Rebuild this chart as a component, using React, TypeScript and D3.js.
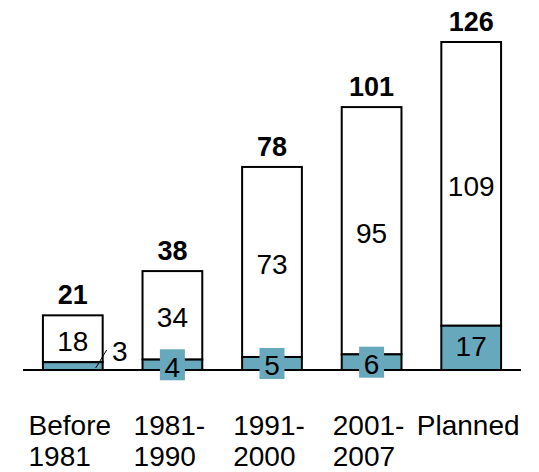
import React, { useEffect, useRef } from "react";
import * as d3 from "d3";

// Stacked counts per period: lower (teal) segment and upper (white) segment
const categories = ["Before 1981", "1981- 1990", "1991- 2000", "2001- 2007", "Planned"];
const categoryLines = [["Before", "1981"], ["1981-", "1990"], ["1991-", "2000"], ["2001-", "2007"], ["Planned"]];
const lowerValues = [3, 4, 5, 6, 17];
const upperValues = [18, 34, 73, 95, 109];
const totals = [21, 38, 78, 101, 126];

const WIDTH = 539;
const HEIGHT = 472;
const FONT = "'Liberation Sans', Arial, Helvetica, sans-serif";
const TEAL = "#68a8bd";

export default function App() {
  const ref = useRef<SVGSVGElement | null>(null);

  useEffect(() => {
    const svg = d3.select(ref.current);
    svg.selectAll("*").remove();

    const x = d3
      .scaleBand<string>()
      .domain(categories)
      .range([23, 521])
      .paddingInner(0.4)
      .paddingOuter(0.2);
    const y = d3.scaleLinear().domain([0, 126]).range([370, 42]);
    const bw = x.bandwidth();

    const rows = categories.map((c, i) => ({
      cat: c,
      lower: lowerValues[i],
      upper: upperValues[i],
      total: totals[i],
      lines: categoryLines[i],
      i,
    }));

    const g = svg.append("g");

    // upper (white) segments
    g.selectAll("rect.upper")
      .data(rows)
      .join("rect")
      .attr("class", "upper")
      .attr("x", (d) => x(d.cat)!)
      .attr("width", bw)
      .attr("y", (d) => y(d.lower + d.upper))
      .attr("height", (d) => y(d.lower) - y(d.lower + d.upper))
      .attr("fill", "#ffffff")
      .attr("stroke", "#000")
      .attr("stroke-width", 2);

    // lower (teal) segments
    g.selectAll("rect.lower")
      .data(rows)
      .join("rect")
      .attr("class", "lower")
      .attr("x", (d) => x(d.cat)!)
      .attr("width", bw)
      .attr("y", (d) => y(d.lower))
      .attr("height", (d) => y(0) - y(d.lower))
      .attr("fill", TEAL)
      .attr("stroke", "#000")
      .attr("stroke-width", 2);

    // baseline
    g.append("line")
      .attr("x1", 23)
      .attr("x2", 521)
      .attr("y1", y(0))
      .attr("y2", y(0))
      .attr("stroke", "#000")
      .attr("stroke-width", 2);

    // totals above bars
    g.selectAll("text.total")
      .data(rows)
      .join("text")
      .attr("class", "total")
      .attr("x", (d) => x(d.cat)! + bw / 2)
      .attr("y", (d) => y(d.total) - 11)
      .attr("text-anchor", "middle")
      .attr("font-family", FONT)
      .attr("font-weight", "bold")
      .attr("font-size", 27)
      .attr("fill", "#000")
      .text((d) => d.total);

    // upper segment labels
    g.selectAll("text.upperLabel")
      .data(rows)
      .join("text")
      .attr("class", "upperLabel")
      .attr("x", (d) => x(d.cat)! + bw / 2)
      .attr("y", (d) => (y(d.lower) + y(d.lower + d.upper)) / 2 + 12)
      .attr("text-anchor", "middle")
      .attr("font-family", FONT)
      .attr("font-size", 28)
      .attr("fill", "#000")
      .text((d) => d.upper);

    // lower segment labels
    rows.forEach((d) => {
      const cx = x(d.cat)! + bw / 2;
      const right = x(d.cat)! + bw;
      const mid = (y(0) + y(d.lower)) / 2;
      const segH = y(0) - y(d.lower);
      if (d.i === 0) {
        // callout to the right of the first bar
        g.append("line")
          .attr("x1", right - 7)
          .attr("y1", y(0) - 2)
          .attr("x2", right + 4)
          .attr("y2", y(0) - 20)
          .attr("stroke", "#000")
          .attr("stroke-width", 1);
        g.append("text")
          .attr("x", right + 17)
          .attr("y", y(0) - 9)
          .attr("text-anchor", "middle")
          .attr("font-family", FONT)
          .attr("font-size", 28)
          .attr("fill", "#000")
          .text(d.lower);
      } else {
        if (segH < 20) {
          g.append("rect")
            .attr("x", cx - 12.5)
            .attr("y", mid - 15.5)
            .attr("width", 25)
            .attr("height", 31)
            .attr("fill", TEAL);
        }
        g.append("text")
          .attr("x", cx)
          .attr("y", segH < 20 ? mid + 12 : mid + 8)
          .attr("text-anchor", "middle")
          .attr("font-family", FONT)
          .attr("font-size", 28)
          .attr("fill", "#000")
          .text(d.lower);
      }
    });

    // category labels: left-aligned lines, block centred under the bar
    rows.forEach((d) => {
      const t = g
        .append("text")
        .attr("font-family", FONT)
        .attr("font-size", 28)
        .attr("fill", "#000");
      d.lines.forEach((line, k) => {
        t.append("tspan").attr("y", 435 + k * 31).text(line);
      });
      let w = 0;
      t.selectAll<SVGTSpanElement, unknown>("tspan").each(function () {
        w = Math.max(w, this.getComputedTextLength());
      });
      const left = x(d.cat)! + bw / 2 - 3 - w / 2;
      t.selectAll("tspan").attr("x", left);
    });
  }, []);

  return (
    <svg
      ref={ref}
      width={WIDTH}
      height={HEIGHT}
      style={{ position: "absolute", left: 0, top: 0, background: "#fff" }}
    />
  );
}
